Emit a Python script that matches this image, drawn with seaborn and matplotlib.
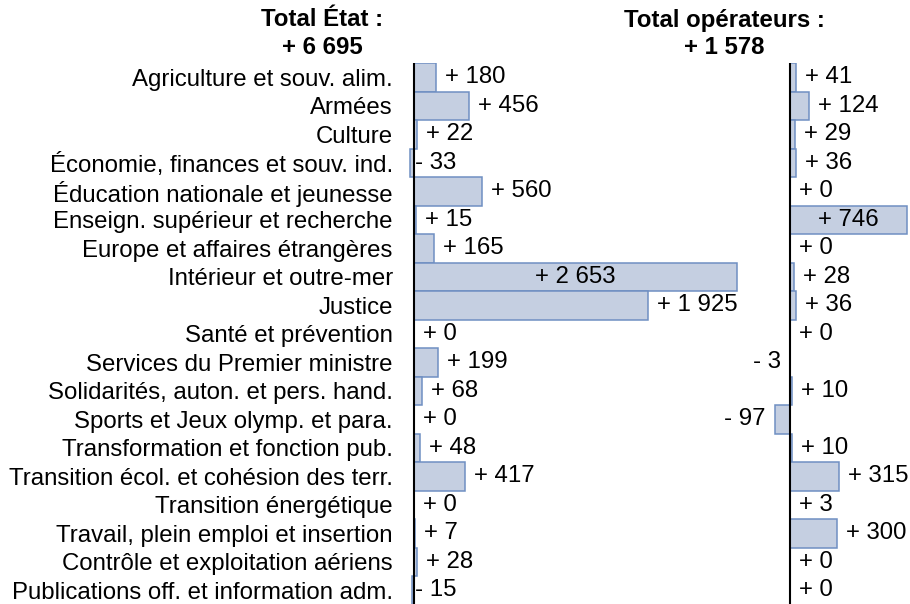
import matplotlib
matplotlib.use("Agg")
import matplotlib.pyplot as plt
import seaborn as sns
import pandas as pd
from matplotlib.transforms import offset_copy

categories = [
    "Agriculture et souv. alim.",
    "Armées",
    "Culture",
    "Économie, finances et souv. ind.",
    "Éducation nationale et jeunesse",
    "Enseign. supérieur et recherche",
    "Europe et affaires étrangères",
    "Intérieur et outre-mer",
    "Justice",
    "Santé et prévention",
    "Services du Premier ministre",
    "Solidarités, auton. et pers. hand.",
    "Sports et Jeux olymp. et para.",
    "Transformation et fonction pub.",
    "Transition écol. et cohésion des terr.",
    "Transition énergétique",
    "Travail, plein emploi et insertion",
    "Contrôle et exploitation aériens",
    "Publications off. et information adm.",
]
etat = [180, 456, 22, -33, 560, 15, 165, 2653, 1925, 0, 199, 68, 0, 48, 417, 0, 7, 28, -15]
operateurs = [41, 124, 29, 36, 0, 746, 0, 28, 36, 0, -3, 10, -97, 10, 315, 3, 300, 0, 0]
total_etat = 6695
total_operateurs = 1578

FILL = "#C5CFE1"
EDGE = "#6F8FC2"
FONT = "Liberation Sans"
FS = 17.3

sns.set_theme(style="white")
plt.rcParams["font.family"] = [FONT, "DejaVu Sans"]
plt.rcParams["text.color"] = "black"
plt.rcParams["ytick.color"] = "black"
plt.rcParams["ytick.labelcolor"] = "black"


def fmt(v):
    sign = "+" if v >= 0 else "-"
    return f"{sign} {abs(v):,}".replace(",", " ")


df = pd.DataFrame({"cat": categories, "etat": etat, "op": operateurs})

W, H = 910, 604
fig = plt.figure(figsize=(W / 100, H / 100), dpi=100)


def px_axes(left, right, top, bottom):
    return fig.add_axes([left / W, 1 - bottom / H, (right - left) / W, (bottom - top) / H])


ax1 = px_axes(406.7, 742.6, 63, 604.5)
ax2 = px_axes(772.7, 909.3, 63, 604.5)

for ax, col, xlim in ((ax1, "etat", (-60, 2700)), (ax2, "op", (-110, 760))):
    sns.barplot(data=df, x=col, y="cat", orient="h", width=1.0, color=FILL,
                edgecolor=EDGE, linewidth=1.1, saturation=1, ax=ax)
    ax.set_xlim(*xlim)
    ax.set_ylim(len(categories) - 0.5, -0.5)
    ax.axvline(0, color="black", lw=1.5, zorder=5)
    for s in ax.spines.values():
        s.set_visible(False)
    ax.set_xticks([])
    ax.set_xlabel("")
    ax.set_ylabel("")
    ax.patch.set_alpha(0)

    vals = df[col].tolist()
    vmax = max(vals)
    for i, v in enumerate(vals):
        if v == vmax:
            ax.text(v / 2, i, fmt(v), ha="center", va="center", fontsize=FS, zorder=6)
        elif v >= 0:
            tr = offset_copy(ax.transData, fig=fig, x=9, y=0, units="dots")
            ax.text(v, i, fmt(v), ha="left", va="center", fontsize=FS, transform=tr,
                    clip_on=False, zorder=6)
        elif ax is ax1:
            tr = offset_copy(ax.transData, fig=fig, x=1, y=0, units="dots")
            ax.text(0, i, fmt(v), ha="left", va="center", fontsize=FS, transform=tr,
                    clip_on=False, zorder=6)
        else:
            tr = offset_copy(ax.transData, fig=fig, x=-9, y=0, units="dots")
            ax.text(v, i, fmt(v), ha="right", va="center", fontsize=FS, transform=tr,
                    clip_on=False, zorder=6)

ax1.tick_params(axis="y", length=0, pad=10, labelsize=FS)
ax2.set_yticks([])

fig.text(322 / W, 1 - 20 / H, "Total État :", ha="center", va="center",
         fontsize=FS, fontweight="bold")
fig.text(322 / W, 1 - 48 / H, fmt(total_etat), ha="center", va="center",
         fontsize=FS, fontweight="bold")
fig.text(724 / W, 1 - 20 / H, "Total opérateurs :", ha="center", va="center",
         fontsize=FS, fontweight="bold")
fig.text(724 / W, 1 - 48 / H, fmt(total_operateurs), ha="center", va="center",
         fontsize=FS, fontweight="bold")

fig.savefig("out.png", dpi=100, facecolor="white")
